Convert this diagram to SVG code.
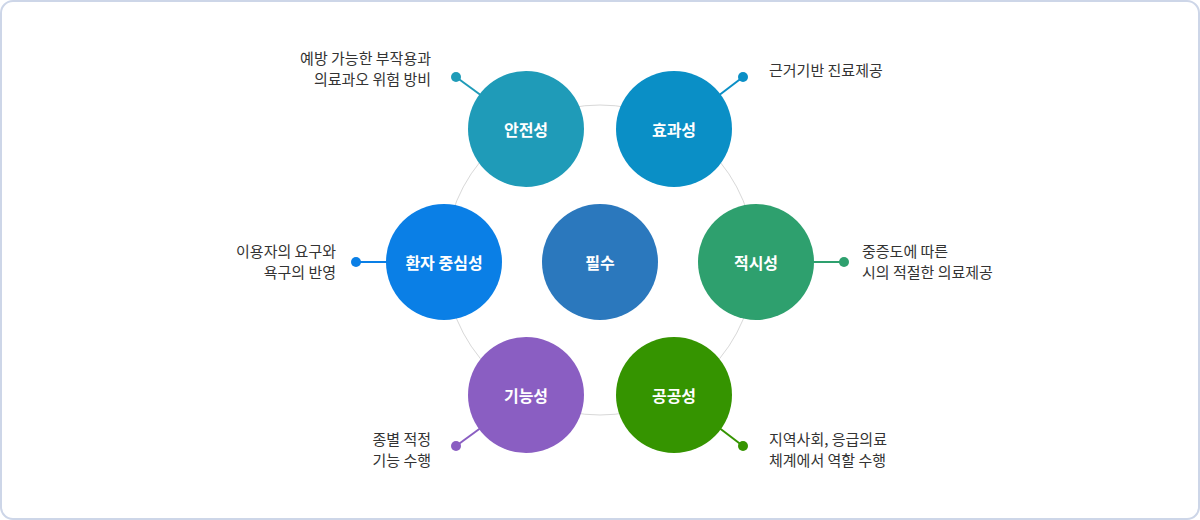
<svg xmlns="http://www.w3.org/2000/svg" width="1200" height="520" viewBox="0 0 1200 520">
<style>
.lbl{font-family:"Noto Sans CJK KR","Noto Sans",sans-serif;font-size:15px;fill:#333}
.nt{font-family:"Noto Sans CJK KR","Noto Sans",sans-serif;font-size:16px;font-weight:bold;fill:#fff;text-anchor:middle;dominant-baseline:central}
.r{text-anchor:end}
</style>
<rect x="1" y="1" width="1198" height="518" rx="12" fill="#fff" stroke="#cdd6e8" stroke-width="2"/>
<circle cx="600" cy="260" r="155" fill="none" stroke="#d8d8d8" stroke-width="1"/>
<g id="connectors" stroke-width="2">
<line x1="456" y1="77" x2="482" y2="96" stroke="#1f9bb8"/><circle cx="456" cy="77" r="5" fill="#1f9bb8"/>
<line x1="743" y1="77" x2="718" y2="96" stroke="#0a8fc6"/><circle cx="743" cy="77" r="5" fill="#0a8fc6"/>
<line x1="812" y1="262" x2="844" y2="262" stroke="#2ea06e"/><circle cx="844" cy="262" r="5" fill="#2ea06e"/>
<line x1="356" y1="262" x2="388" y2="262" stroke="#0a7fe6"/><circle cx="356" cy="262" r="5" fill="#0a7fe6"/>
<line x1="456" y1="446" x2="482" y2="427" stroke="#8a5ec2"/><circle cx="456" cy="446" r="5" fill="#8a5ec2"/>
<line x1="743" y1="446" x2="718" y2="427" stroke="#359400"/><circle cx="743" cy="446" r="5" fill="#359400"/>
</g>
<g id="n-center"><circle cx="600" cy="262" r="58" fill="#2b78bd"/><text class="nt" x="600" y="262">필수</text></g>
<g id="n-safety"><circle cx="526" cy="129" r="58" fill="#1f9bb8"/><text class="nt" x="526" y="129">안전성</text></g>
<g id="n-effect"><circle cx="674" cy="129" r="58" fill="#0a8fc6"/><text class="nt" x="674" y="129">효과성</text></g>
<g id="n-timely"><circle cx="756" cy="262" r="58" fill="#2ea06e"/><text class="nt" x="756" y="262">적시성</text></g>
<g id="n-public"><circle cx="674" cy="395" r="58" fill="#359400"/><text class="nt" x="674" y="395">공공성</text></g>
<g id="n-func"><circle cx="526" cy="395" r="58" fill="#8a5ec2"/><text class="nt" x="526" y="395">기능성</text></g>
<g id="n-patient"><circle cx="444" cy="262" r="58" fill="#0a7fe6"/><text class="nt" x="444" y="262">환자 중심성</text></g>
<g id="labels">
<text class="lbl r" x="431" y="64">예방 가능한 부작용과</text>
<text class="lbl r" x="431" y="85">의료과오 위험 방비</text>
<text class="lbl" x="769" y="76">근거기반 진료제공</text>
<text class="lbl" x="862" y="257">중증도에 따른</text>
<text class="lbl" x="862" y="278">시의 적절한 의료제공</text>
<text class="lbl r" x="336" y="257">이용자의 요구와</text>
<text class="lbl r" x="336" y="278">욕구의 반영</text>
<text class="lbl r" x="431" y="445">종별 적정</text>
<text class="lbl r" x="431" y="466">기능 수행</text>
<text class="lbl" x="769" y="445">지역사회, 응급의료</text>
<text class="lbl" x="769" y="466">체계에서 역할 수행</text>
</g>
</svg>
